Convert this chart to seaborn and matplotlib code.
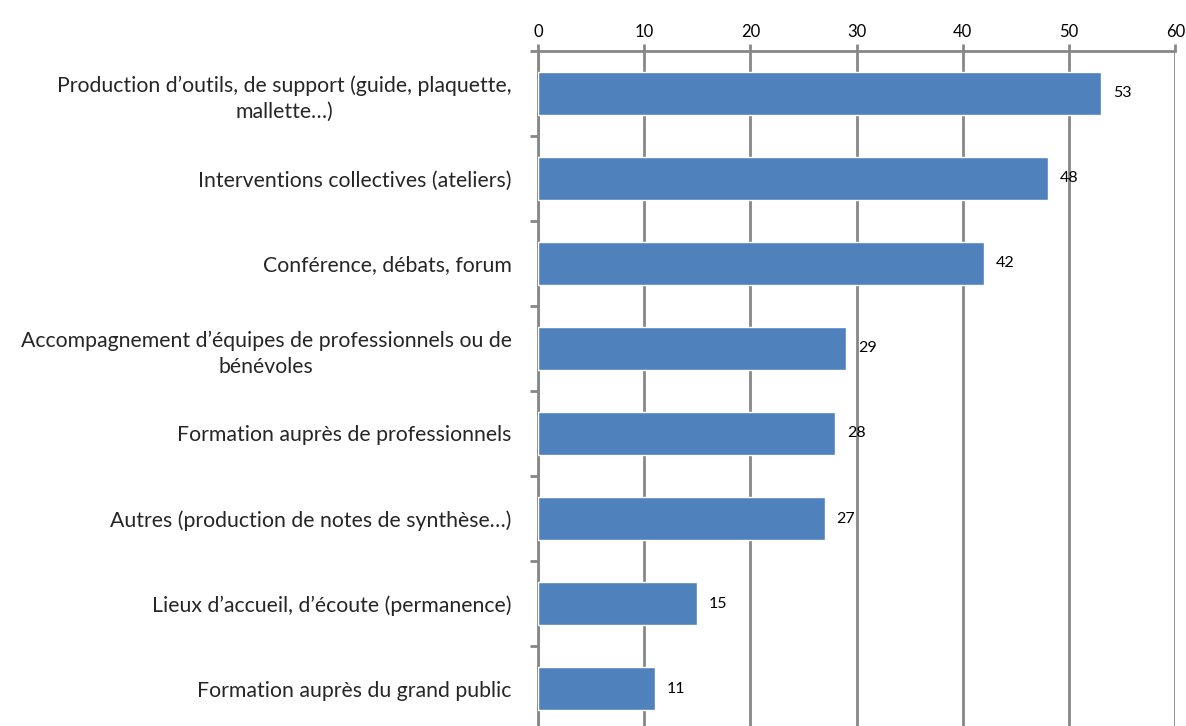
import matplotlib
matplotlib.use("Agg")
from matplotlib import pyplot as plt
from matplotlib.ticker import FixedLocator
import pandas as pd
import seaborn as sns

# data
actions = [
    "Production d\u2019outils, de support (guide, plaquette,\nmallette\u2026)",
    "Interventions collectives (ateliers)",
    "Conférence, débats, forum",
    "Accompagnement d\u2019équipes de professionnels ou de\nbénévoles",
    "Formation auprès de professionnels",
    "Autres (production de notes de synthèse\u2026)",
    "Lieux d\u2019accueil, d\u2019écoute (permanence)",
    "Formation auprès du grand public",
]
counts = [53, 48, 42, 29, 28, 27, 15, 11]
x_ticks = [0, 10, 20, 30, 40, 50, 60]

df = pd.DataFrame({"action": actions, "count": counts})

sns.set_theme(style="white")
plt.rcParams["font.family"] = ["Lato", "DejaVu Sans"]

grey = "#878787"
fig, ax = plt.subplots(figsize=(11.86, 7.26), dpi=100)
fig.subplots_adjust(left=0.4536, right=0.991, top=0.93, bottom=-0.007)

sns.barplot(data=df, x="count", y="action", orient="h", color="#4F81BD",
            saturation=1, width=0.5, ax=ax, zorder=3)

ax.set_xlim(0, 60)
ax.set_ylim(len(actions) - 0.5, -0.5)
ax.set_xticks(x_ticks)
ax.xaxis.tick_top()
ax.xaxis.set_label_position("top")
ax.set_xlabel("")
ax.set_ylabel("")
ax.tick_params(axis="x", labelsize=12, length=5, width=2, color=grey,
               pad=3, labelcolor="black")
ax.grid(axis="x", color=grey, linewidth=2, zorder=0)
ax.grid(axis="y", visible=False)

# category tick marks at boundaries, labels centred between
ax.yaxis.set_major_locator(FixedLocator([i - 0.5 for i in range(len(actions) + 1)]))
ax.yaxis.set_minor_locator(FixedLocator(list(range(len(actions)))))
ax.set_yticklabels([], minor=False)
ax.set_yticklabels(actions, minor=True, fontsize=15.3)
ax.tick_params(axis="y", which="major", length=6, width=2, color=grey, left=True)
ax.tick_params(axis="y", which="minor", length=0, pad=19)
for lab in ax.get_yticklabels(minor=True):
    lab.set_multialignment("center")
    lab.set_linespacing(1.4)

for side in ["right", "bottom"]:
    ax.spines[side].set_visible(False)
for side in ["left", "top"]:
    ax.spines[side].set_color(grey)
    ax.spines[side].set_linewidth(2)

for i, v in enumerate(counts):
    ax.text(v + 1.1, i, str(v), va="center", ha="left", fontsize=11.5,
            color="black", zorder=4)

plt.savefig("out.png", dpi=100)
